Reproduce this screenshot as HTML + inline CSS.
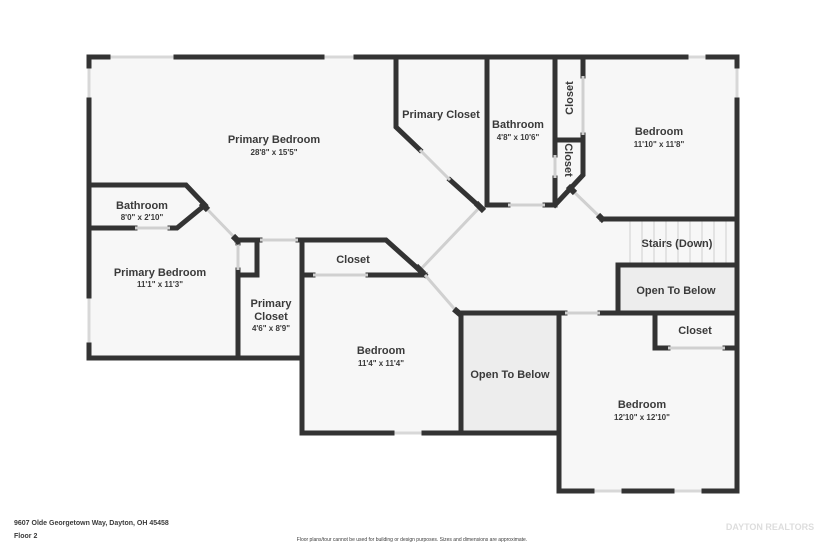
<!DOCTYPE html>
<html><head><meta charset="utf-8"><style>
html,body{margin:0;padding:0;background:#fff}
svg{display:block}
text{font-family:"Liberation Sans",sans-serif;fill:#3a3a3a;text-anchor:middle}
.t{font-size:11px;font-weight:bold}
.d{font-size:8px;font-weight:bold}
</style></head><body>
<svg width="825" height="550" viewBox="0 0 825 550">
<!-- floors -->
<g fill="#f7f7f7">
<polygon points="89,57 737,57 737,491 559,491 559,433 302,433 302,358 89,358"/>
</g>
<rect x="461" y="313" width="98" height="120" fill="#ededed"/>
<rect x="618" y="265" width="119" height="48" fill="#ededed"/>
<g stroke="#cfcfcf" stroke-width="1">
<line x1="630" y1="220" x2="630" y2="263"/><line x1="642" y1="220" x2="642" y2="263"/><line x1="654" y1="220" x2="654" y2="263"/><line x1="666" y1="220" x2="666" y2="263"/><line x1="678" y1="220" x2="678" y2="263"/><line x1="690" y1="220" x2="690" y2="263"/><line x1="702" y1="220" x2="702" y2="263"/><line x1="714" y1="220" x2="714" y2="263"/><line x1="726" y1="220" x2="726" y2="263"/>
</g>
<!-- door/window gaps (light lines) -->
<g stroke="#d8d8d8" stroke-width="3" fill="none">
<line x1="108" y1="57" x2="176" y2="57"/><line x1="322" y1="57" x2="356" y2="57"/><line x1="686" y1="57" x2="708" y2="57"/>
<line x1="89" y1="66" x2="89" y2="100"/><line x1="89" y1="296" x2="89" y2="345"/><line x1="737" y1="66" x2="737" y2="100"/>
<line x1="392" y1="433" x2="424" y2="433"/><line x1="592" y1="491" x2="624" y2="491"/><line x1="672" y1="491" x2="704" y2="491"/>
</g>
<!-- walls -->
<g stroke="#333" stroke-width="5" fill="none" stroke-linecap="square">
<polyline points="108,57 89,57 89,66"/><line x1="176" y1="57" x2="322" y2="57"/><line x1="356" y1="57" x2="686" y2="57"/><polyline points="708,57 737,57 737,66"/>
<line x1="89" y1="100" x2="89" y2="296"/><polyline points="89,345 89,358 302,358"/>
<polyline points="737,100 737,491 704,491"/><line x1="672" y1="491" x2="624" y2="491"/><polyline points="592,491 559,491 559,313"/>
<polyline points="302,240 302,433 392,433"/><line x1="424" y1="433" x2="559" y2="433"/>
<!-- primary closet -->
<polyline points="396,57 396,127 420,150"/><polyline points="450,180 480,207"/>
<!-- bathroom -->
<line x1="487" y1="57" x2="487" y2="205"/><line x1="487" y1="205" x2="508" y2="205"/><line x1="545" y1="205" x2="555" y2="205"/>
<line x1="555" y1="57" x2="555" y2="155"/><line x1="555" y1="178" x2="555" y2="205"/>
<line x1="555" y1="140" x2="583" y2="140"/><line x1="583" y1="57" x2="583" y2="76"/><polyline points="583,135 583,175 555,205"/>
<line x1="602" y1="219" x2="737" y2="219"/>
<line x1="618" y1="265" x2="737" y2="265"/><line x1="618" y1="265" x2="618" y2="313"/>
<line x1="461" y1="313" x2="565" y2="313"/><line x1="600" y1="313" x2="737" y2="313"/>
<line x1="461" y1="313" x2="461" y2="433"/>
<polyline points="655,313 655,348 668,348"/><line x1="725" y1="348" x2="737" y2="348"/>
<!-- closet middle -->
<polyline points="302,240 386,240 425,275"/><line x1="302" y1="275" x2="313" y2="275"/><line x1="368" y1="275" x2="425" y2="275"/>
<!-- left bathroom -->
<polyline points="89,185 186,185 205,205 177,228 170,228"/><line x1="89" y1="228" x2="135" y2="228"/>
<polyline points="237,240 260,240"/><line x1="298" y1="240" x2="302" y2="240"/>
<polyline points="238,240 238,243"/><polyline points="238,270 238,358"/><polyline points="238,275 257,275 257,240"/>
</g>
<!-- diagonal doors -->
<g stroke="#d0d0d0" stroke-width="3">
<line x1="420" y1="150" x2="450" y2="180"/><line x1="480" y1="207" x2="420" y2="270"/><line x1="425" y1="275" x2="458" y2="313"/>
<line x1="205" y1="207" x2="237" y2="240"/><line x1="572" y1="190" x2="602" y2="219"/>
<line x1="508" y1="205" x2="545" y2="205"/><line x1="583" y1="76" x2="583" y2="135"/><line x1="555" y1="155" x2="555" y2="178"/>
<line x1="565" y1="313" x2="600" y2="313"/><line x1="668" y1="348" x2="725" y2="348"/><line x1="313" y1="275" x2="368" y2="275"/>
<line x1="135" y1="228" x2="170" y2="228"/><line x1="260" y1="240" x2="298" y2="240"/><line x1="238" y1="243" x2="238" y2="270"/>
</g>
<g stroke="#333" stroke-width="6">
<line x1="476" y1="203" x2="484" y2="211"/><line x1="416" y1="266" x2="424" y2="274"/><line x1="454" y1="309" x2="461" y2="315"/>
<line x1="201" y1="203" x2="208" y2="210"/><line x1="233" y1="236" x2="240" y2="243"/><line x1="568" y1="186" x2="575" y2="193"/><line x1="598" y1="215" x2="604" y2="221"/>
</g>
<!-- labels -->
<text class="t" x="274" y="143">Primary Bedroom</text><text class="d" x="274" y="155">28'8" x 15'5"</text>
<text class="t" x="441" y="118">Primary Closet</text>
<text class="t" x="518" y="128">Bathroom</text><text class="d" x="518" y="140">4'8" x 10'6"</text>
<text class="t" x="659" y="135">Bedroom</text><text class="d" x="659" y="147">11'10" x 11'8"</text>
<text class="t" transform="translate(573,98) rotate(-90)">Closet</text>
<text class="t" transform="translate(565,160) rotate(90)">Closet</text>
<text class="t" x="677" y="247">Stairs (Down)</text>
<text class="t" x="676" y="294">Open To Below</text>
<text class="t" x="695" y="334">Closet</text>
<text class="t" x="142" y="209">Bathroom</text><text class="d" x="142" y="220">8'0" x 2'10"</text>
<text class="t" x="160" y="276">Primary Bedroom</text><text class="d" x="160" y="287">11'1" x 11'3"</text>
<text class="t" x="271" y="307">Primary</text><text class="t" x="271" y="320">Closet</text><text class="d" x="271" y="331">4'6" x 8'9"</text>
<text class="t" x="353" y="263">Closet</text>
<text class="t" x="381" y="354">Bedroom</text><text class="d" x="381" y="366">11'4" x 11'4"</text>
<text class="t" x="510" y="378">Open To Below</text>
<text class="t" x="642" y="408">Bedroom</text><text class="d" x="642" y="420">12'10" x 12'10"</text>
<text x="14" y="525" style="font-size:7px;font-weight:bold;text-anchor:start">9607 Olde Georgetown Way, Dayton, OH 45458</text>
<text x="14" y="538" style="font-size:7px;font-weight:bold;text-anchor:start">Floor 2</text>
<text x="412" y="541" style="font-size:5px">Floor plans/tour cannot be used for building or design purposes. Sizes and dimensions are approximate.</text>
<text x="770" y="530" style="font-size:9px;fill:#ddd;font-weight:bold">DAYTON REALTORS</text>
</svg>
</body></html>
